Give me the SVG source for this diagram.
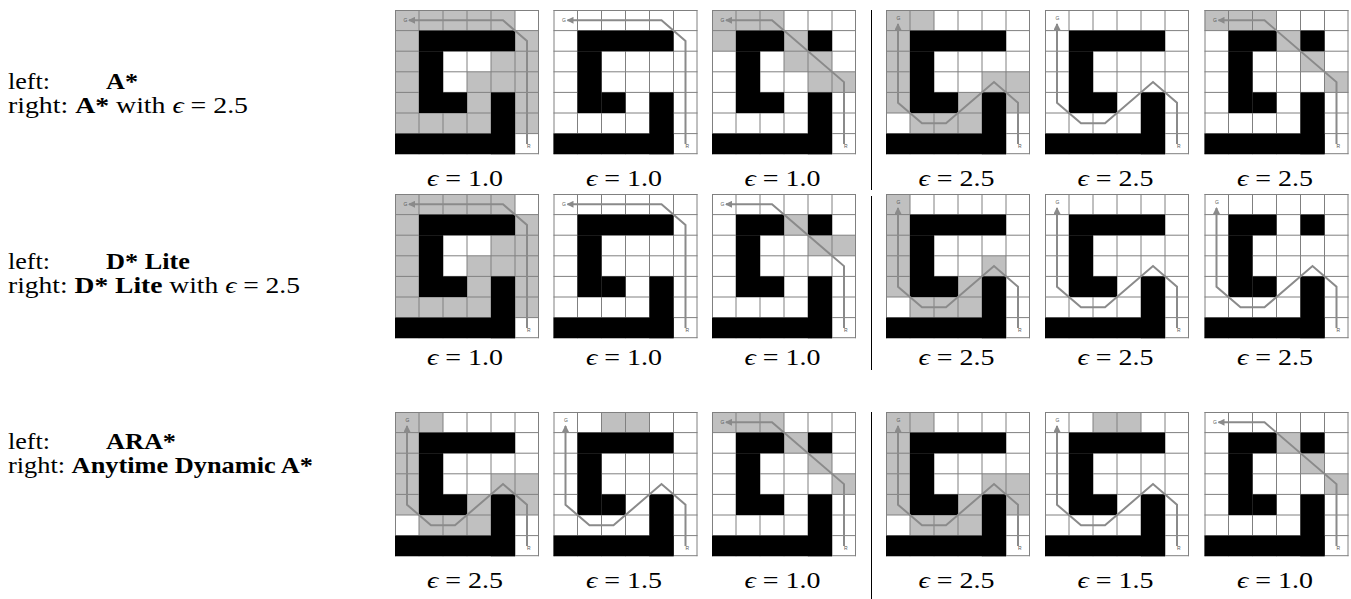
<svg xmlns="http://www.w3.org/2000/svg" xmlns:xlink="http://www.w3.org/1999/xlink" width="1351" height="599" viewBox="0 0 1351 599">
<style>
.bg{fill:#fff}
.gc{fill:#c0c0c0}
.ln{stroke:#808080;stroke-width:1;fill:none}
.ob{fill:#000}
.pt{fill:none;stroke:#8a8a8a;stroke-width:2;stroke-linejoin:miter}
.lt{font-family:"Liberation Sans",Arial,sans-serif;font-size:5px;fill:#555}
.tx{font-family:"Liberation Serif","Times New Roman",serif;font-size:22.5px;fill:#000}
.b{font-weight:bold}
.eq{font-family:"Liberation Serif","DejaVu Serif",serif;font-size:23px;fill:#000;text-anchor:middle}
.dv{stroke:#000;stroke-width:1}
</style>
<defs>
<marker id="ah" markerWidth="7" markerHeight="7" refX="6" refY="3.5" orient="auto" markerUnits="userSpaceOnUse">
<path d="M0,0 L7,3.5 L0,7 Z" fill="#8a8a8a"/>
</marker>
<g id="lines">
<path class="ln" d="M0.5,0V144.2M24,0V144.2M48,0V144.2M72,0V144.2M96,0V144.2M120,0V144.2M143.5,0V144.2M0,0.5H144M0,20.6H144M0,41.2H144M0,61.8H144M0,82.4H144M0,103H144M0,123.6H144M0,143.7H144"/>
</g>
<g id="obsFull">
<rect class="ob" x="24" y="20.6" width="96" height="20.6"/>
<rect class="ob" x="24" y="41.2" width="24" height="61.8"/>
<rect class="ob" x="48" y="82.4" width="24" height="20.6"/>
<rect class="ob" x="96" y="82.4" width="24" height="61.8"/>
<rect class="ob" x="0" y="123.6" width="120" height="20.6"/>
</g>
<g id="obsOpen">
<rect class="ob" x="24" y="20.6" width="48" height="20.6"/>
<rect class="ob" x="96" y="20.6" width="24" height="20.6"/>
<rect class="ob" x="24" y="41.2" width="24" height="61.8"/>
<rect class="ob" x="48" y="82.4" width="24" height="20.6"/>
<rect class="ob" x="96" y="82.4" width="24" height="61.8"/>
<rect class="ob" x="0" y="123.6" width="120" height="20.6"/>
</g>
<g id="grayA">
<rect class="gc" x="0" y="0" width="120" height="20.6"/>
<rect class="gc" x="0" y="20.6" width="24" height="103"/>
<rect class="gc" x="120" y="20.6" width="24" height="103"/>
<rect class="gc" x="96" y="41.2" width="24" height="20.6"/>
<rect class="gc" x="72" y="61.8" width="48" height="20.6"/>
<rect class="gc" x="72" y="82.4" width="24" height="20.6"/>
<rect class="gc" x="24" y="103" width="72" height="20.6"/>
</g>
<g id="grayW">
<rect class="gc" x="0" y="0" width="48" height="20.6"/>
<rect class="gc" x="0" y="20.6" width="24" height="82.4"/>
<rect class="gc" x="96" y="61.8" width="48" height="20.6"/>
<rect class="gc" x="72" y="82.4" width="24" height="20.6"/>
<rect class="gc" x="120" y="82.4" width="24" height="20.6"/>
<rect class="gc" x="24" y="103" width="72" height="20.6"/>
</g>
<g id="pathTop">
<polyline class="pt" points="132,133.9 132,30.9 108,10.3 14,10.3" marker-end="url(#ah)"/>
<text class="lt" x="8.5" y="12.3">G</text>
<text class="lt" x="132" y="138">R</text>
</g>
<g id="pathGap">
<polyline class="pt" points="132,133.9 132,72.1 60,10.3 14,10.3" marker-end="url(#ah)"/>
<text class="lt" x="8.5" y="12.3">G</text>
<text class="lt" x="132" y="138">R</text>
</g>
<g id="pathLong">
<polyline class="pt" points="132,133.9 132,92.7 108,72.1 60,113.3 36,113.3 12,92.7 12,14" marker-end="url(#ah)"/>
<text class="lt" x="10.5" y="10">G</text>
<text class="lt" x="132" y="138">R</text>
</g>
</defs>

<g id="labels">
<text class="tx" x="8" y="89" textLength="42" lengthAdjust="spacingAndGlyphs">left:</text>
<text class="tx b" x="106" y="89" textLength="32" lengthAdjust="spacingAndGlyphs">A*</text>
<text class="tx" x="8" y="113" textLength="240" lengthAdjust="spacingAndGlyphs">right: <tspan class="b">A*</tspan> with <tspan font-style="italic">ϵ</tspan> = 2.5</text>
<text class="tx" x="8" y="269" textLength="42" lengthAdjust="spacingAndGlyphs">left:</text>
<text class="tx b" x="106" y="269" textLength="84" lengthAdjust="spacingAndGlyphs">D* Lite</text>
<text class="tx" x="8" y="293" textLength="292" lengthAdjust="spacingAndGlyphs">right: <tspan class="b">D* Lite</tspan> with <tspan font-style="italic">ϵ</tspan> = 2.5</text>
<text class="tx" x="8" y="449" textLength="42" lengthAdjust="spacingAndGlyphs">left:</text>
<text class="tx b" x="106" y="449" textLength="70" lengthAdjust="spacingAndGlyphs">ARA*</text>
<text class="tx" x="8" y="473" textLength="305" lengthAdjust="spacingAndGlyphs">right: <tspan class="b">Anytime Dynamic A*</tspan></text>
</g>

<g id="dividers">
<line class="dv" x1="871.5" y1="10" x2="871.5" y2="190"/>
<line class="dv" x1="871.5" y1="196" x2="871.5" y2="370"/>
<line class="dv" x1="871.5" y1="412" x2="871.5" y2="599"/>
</g>

<!-- Row 1 -->
<g id="r1g1" transform="translate(395,10)">
<rect class="bg" width="144" height="144.2"/>
<use href="#grayA"/><use href="#lines"/><use href="#obsFull"/><use href="#pathTop"/>
</g>
<g id="r1g2" transform="translate(553.5,10)">
<rect class="bg" width="144" height="144.2"/>
<use href="#lines"/><use href="#obsFull"/><use href="#pathTop"/>
</g>
<g id="r1g3" transform="translate(712,10)">
<rect class="bg" width="144" height="144.2"/>
<rect class="gc" x="0" y="0" width="72" height="20.6"/>
<rect class="gc" x="0" y="20.6" width="24" height="20.6"/>
<rect class="gc" x="72" y="20.6" width="24" height="20.6"/>
<rect class="gc" x="72" y="41.2" width="48" height="20.6"/>
<rect class="gc" x="96" y="61.8" width="48" height="20.6"/>
<use href="#lines"/><use href="#obsOpen"/><use href="#pathGap"/>
</g>
<g id="r1g4" transform="translate(886,10)">
<rect class="bg" width="144" height="144.2"/>
<use href="#grayW"/><use href="#lines"/><use href="#obsFull"/><use href="#pathLong"/>
</g>
<g id="r1g5" transform="translate(1045,10)">
<rect class="bg" width="144" height="144.2"/>
<use href="#lines"/><use href="#obsFull"/><use href="#pathLong"/>
</g>
<g id="r1g6" transform="translate(1204.5,10)">
<rect class="bg" width="144" height="144.2"/>
<rect class="gc" x="0" y="0" width="72" height="20.6"/>
<rect class="gc" x="72" y="20.6" width="24" height="20.6"/>
<rect class="gc" x="96" y="41.2" width="24" height="20.6"/>
<rect class="gc" x="120" y="61.8" width="24" height="20.6"/>
<use href="#lines"/><use href="#obsOpen"/><use href="#pathGap"/>
</g>

<!-- Row 2 -->
<g id="r2g1" transform="translate(395,194)">
<rect class="bg" width="144" height="144.2"/>
<use href="#grayA"/><use href="#lines"/><use href="#obsFull"/><use href="#pathTop"/>
</g>
<g id="r2g2" transform="translate(553.5,194)">
<rect class="bg" width="144" height="144.2"/>
<use href="#lines"/><use href="#obsFull"/><use href="#pathTop"/>
</g>
<g id="r2g3" transform="translate(712,194)">
<rect class="bg" width="144" height="144.2"/>
<rect class="gc" x="72" y="20.6" width="24" height="20.6"/>
<rect class="gc" x="96" y="41.2" width="24" height="20.6"/>
<rect class="gc" x="120" y="41.2" width="24" height="20.6"/>
<use href="#lines"/><use href="#obsOpen"/><use href="#pathGap"/>
</g>
<g id="r2g4" transform="translate(886,194)">
<rect class="bg" width="144" height="144.2"/>
<rect class="gc" x="0" y="0" width="24" height="103"/>
<rect class="gc" x="96" y="61.8" width="24" height="20.6"/>
<rect class="gc" x="72" y="82.4" width="24" height="20.6"/>
<rect class="gc" x="24" y="103" width="72" height="20.6"/>
<use href="#lines"/><use href="#obsFull"/><use href="#pathLong"/>
</g>
<g id="r2g5" transform="translate(1045,194)">
<rect class="bg" width="144" height="144.2"/>
<use href="#lines"/><use href="#obsFull"/><use href="#pathLong"/>
</g>
<g id="r2g6" transform="translate(1204.5,194)">
<rect class="bg" width="144" height="144.2"/>
<use href="#lines"/><use href="#obsOpen"/><use href="#pathLong"/>
</g>

<!-- Row 3 -->
<g id="r3g1" transform="translate(395,412)">
<rect class="bg" width="144" height="144.2"/>
<use href="#grayW"/><use href="#lines"/><use href="#obsFull"/><use href="#pathLong"/>
</g>
<g id="r3g2" transform="translate(553.5,412)">
<rect class="bg" width="144" height="144.2"/>
<rect class="gc" x="48" y="0" width="48" height="20.6"/>
<use href="#lines"/><use href="#obsFull"/><use href="#pathLong"/>
</g>
<g id="r3g3" transform="translate(712,412)">
<rect class="bg" width="144" height="144.2"/>
<rect class="gc" x="0" y="0" width="72" height="20.6"/>
<rect class="gc" x="72" y="20.6" width="24" height="20.6"/>
<rect class="gc" x="96" y="41.2" width="24" height="20.6"/>
<rect class="gc" x="120" y="61.8" width="24" height="20.6"/>
<use href="#lines"/><use href="#obsOpen"/><use href="#pathGap"/>
</g>
<g id="r3g4" transform="translate(886,412)">
<rect class="bg" width="144" height="144.2"/>
<use href="#grayW"/><use href="#lines"/><use href="#obsFull"/><use href="#pathLong"/>
</g>
<g id="r3g5" transform="translate(1045,412)">
<rect class="bg" width="144" height="144.2"/>
<rect class="gc" x="48" y="0" width="48" height="20.6"/>
<use href="#lines"/><use href="#obsFull"/><use href="#pathLong"/>
</g>
<g id="r3g6" transform="translate(1204.5,412)">
<rect class="bg" width="144" height="144.2"/>
<rect class="gc" x="72" y="20.6" width="24" height="20.6"/>
<rect class="gc" x="96" y="41.2" width="24" height="20.6"/>
<rect class="gc" x="120" y="61.8" width="24" height="20.6"/>
<use href="#lines"/><use href="#obsOpen"/><use href="#pathGap"/>
</g>

<g id="captions">
<text class="eq" x="465" y="186" textLength="76" lengthAdjust="spacingAndGlyphs"><tspan font-style="italic">ϵ</tspan> = 1.0</text>
<text class="eq" x="624" y="186" textLength="76" lengthAdjust="spacingAndGlyphs"><tspan font-style="italic">ϵ</tspan> = 1.0</text>
<text class="eq" x="782.5" y="186" textLength="76" lengthAdjust="spacingAndGlyphs"><tspan font-style="italic">ϵ</tspan> = 1.0</text>
<text class="eq" x="956.5" y="186" textLength="76" lengthAdjust="spacingAndGlyphs"><tspan font-style="italic">ϵ</tspan> = 2.5</text>
<text class="eq" x="1115.5" y="186" textLength="76" lengthAdjust="spacingAndGlyphs"><tspan font-style="italic">ϵ</tspan> = 2.5</text>
<text class="eq" x="1275" y="186" textLength="76" lengthAdjust="spacingAndGlyphs"><tspan font-style="italic">ϵ</tspan> = 2.5</text>
<text class="eq" x="465" y="365" textLength="76" lengthAdjust="spacingAndGlyphs"><tspan font-style="italic">ϵ</tspan> = 1.0</text>
<text class="eq" x="624" y="365" textLength="76" lengthAdjust="spacingAndGlyphs"><tspan font-style="italic">ϵ</tspan> = 1.0</text>
<text class="eq" x="782.5" y="365" textLength="76" lengthAdjust="spacingAndGlyphs"><tspan font-style="italic">ϵ</tspan> = 1.0</text>
<text class="eq" x="956.5" y="365" textLength="76" lengthAdjust="spacingAndGlyphs"><tspan font-style="italic">ϵ</tspan> = 2.5</text>
<text class="eq" x="1115.5" y="365" textLength="76" lengthAdjust="spacingAndGlyphs"><tspan font-style="italic">ϵ</tspan> = 2.5</text>
<text class="eq" x="1275" y="365" textLength="76" lengthAdjust="spacingAndGlyphs"><tspan font-style="italic">ϵ</tspan> = 2.5</text>
<text class="eq" x="465" y="588" textLength="76" lengthAdjust="spacingAndGlyphs"><tspan font-style="italic">ϵ</tspan> = 2.5</text>
<text class="eq" x="624" y="588" textLength="76" lengthAdjust="spacingAndGlyphs"><tspan font-style="italic">ϵ</tspan> = 1.5</text>
<text class="eq" x="782.5" y="588" textLength="76" lengthAdjust="spacingAndGlyphs"><tspan font-style="italic">ϵ</tspan> = 1.0</text>
<text class="eq" x="956.5" y="588" textLength="76" lengthAdjust="spacingAndGlyphs"><tspan font-style="italic">ϵ</tspan> = 2.5</text>
<text class="eq" x="1115.5" y="588" textLength="76" lengthAdjust="spacingAndGlyphs"><tspan font-style="italic">ϵ</tspan> = 1.5</text>
<text class="eq" x="1275" y="588" textLength="76" lengthAdjust="spacingAndGlyphs"><tspan font-style="italic">ϵ</tspan> = 1.0</text>
</g>
</svg>
